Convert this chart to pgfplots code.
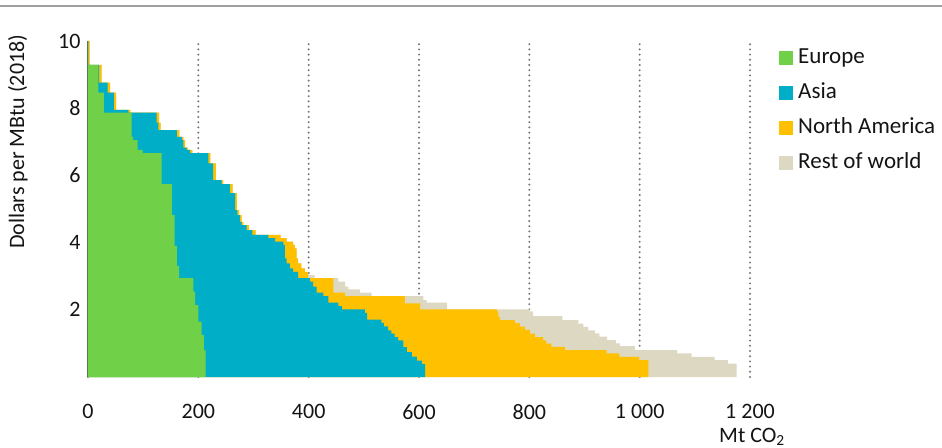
\documentclass[border=0pt]{standalone}
\usepackage{fontspec}
\setmainfont{Carlito}
\usepackage{pgfplots}
\pgfplotsset{compat=1.18}
\definecolor{eucol}{RGB}{112,208,72}
\definecolor{ascol}{RGB}{0,174,199}
\definecolor{nacol}{RGB}{255,192,0}
\definecolor{rwcol}{RGB}{221,216,193}
\definecolor{txt}{RGB}{20,20,20}
\pgfplotsset{sqleg/.style={legend image code/.code={\fill[#1] (0bp,-6.5bp) rectangle (13bp,6.5bp);}}}
\begin{document}
\fontsize{22bp}{26bp}\selectfont
\begin{tikzpicture}
\useasboundingbox (-88bp,-71bp) rectangle (854bp,377bp);
\draw[color=gray!75, line width=2.5bp] (-88bp,371bp) -- (854bp,371bp);
\begin{axis}[
 at={(0bp,0bp)}, anchor=south west,
 scale only axis, width=662bp, height=336bp,
 xmin=0, xmax=1200, ymin=0, ymax=10,
 axis x line*=bottom, axis y line*=left,
 x axis line style={draw=none},
 y axis line style={draw=black!75, line width=1.5bp},
 xtick={0,200,400,600,800,1000,1200},
 xticklabels={0,200,400,600,800,1 000,1 200},
 ytick={2,4,6,8,10},
 major tick length=0pt,
 tick label style={font=\fontsize{22bp}{26bp}\selectfont, text=txt},
 /pgf/number format/assume math mode=true,
 xticklabel style={yshift=-20bp},
 xmajorgrids,
 grid style={black!55, line width=2.2bp, line cap=round, dash pattern=on 0bp off 5.2bp},
 xlabel={Mt CO\textsubscript{2}},
 xlabel style={at={(axis description cs:1.003,-0.179)}, anchor=center, font=\fontsize{22bp}{26bp}\selectfont, text=txt},
 ylabel={Dollars per MBtu (2018)},
 ylabel style={at={(axis description cs:-0.106,0.70)}, anchor=center, font=\fontsize{22bp}{26bp}\selectfont, text=txt},
 legend style={at={(axis description cs:1.044,0.986)}, anchor=north west, draw=none, fill=none, inner sep=0pt, row sep=10.5bp, font=\fontsize{23bp}{27bp}\selectfont, text=txt, nodes={text height=15bp, text depth=4.5bp, inner ysep=2.5bp, inner xsep=5.5bp}},
 legend cell align=left,
]
% Rest of world (cumulative total)
\addplot[const plot mark right, fill=rwcol, draw=none, forget plot] table {
x y
0 0
1175.8 0
1160 0.40
1136 0.50
1094 0.60
1068 0.70
991.5 0.80
964 0.92
957 1.0
941 1.10
927 1.20
919 1.30
907 1.39
898 1.49
889 1.59
860 1.69
807 1.81
801 1.95
651 2.01
614 2.21
608 2.29
514 2.41
493 2.51
472 2.61
466 2.69
454 2.84
411 2.94
399 3.03
393 3.13
387 3.23
381 3.38
378 3.53
375 3.83
372 3.93
360 4.03
349 4.13
304 4.23
291.6 4.37
281.5 4.52
278.6 4.62
274 4.82
270 4.97
262 5.47
245 5.74
232 5.86
222 6.36
189 6.66
181 6.76
176 6.83
173 7.05
165.5 7.15
131.7 7.35
129 7.57
77 7.87
50.8 7.95
40 8.46
24.8 8.76
3 9.29
0 10
};
% North America (cumulative)
\addplot[const plot mark right, fill=nacol, draw=none, forget plot] table {
x y
0 0
1015.6 0
999 0.5
963 0.6
940 0.7
864.6 0.8
840 0.9
831 0.99
825 1.09
810 1.19
801 1.29
792 1.40
783 1.50
774 1.60
747 1.69
744 1.79
741 1.95
602 2.01
574.6 2.19
466 2.41
444.7 2.51
399 2.94
393 3.13
387 3.23
381 3.38
378 3.53
375 3.83
372 3.93
360 4.03
349 4.13
304 4.23
291.6 4.37
281.5 4.52
278.6 4.62
274 4.82
270 4.97
262 5.47
245 5.74
232 5.86
222 6.36
189 6.66
181 6.76
176 6.83
173 7.05
165.5 7.15
131.7 7.35
129 7.57
77 7.87
50.8 7.95
40 8.46
24.8 8.76
3 9.29
0 10
};
% Asia (cumulative)
\addplot[const plot mark right, fill=ascol, draw=none, forget plot] table {
x y
0 0
611 0
605 0.39
596 0.49
587 0.61
578 0.74
571.5 0.89
562 1.09
556 1.19
550 1.29
544 1.39
536.5 1.51
532 1.61
506 1.71
502 1.91
460 2.01
454 2.11
435.6 2.21
426.5 2.41
414.5 2.51
408 2.69
402 2.84
381 2.94
372 3.13
366 3.23
360 3.38
357 3.53
354 3.93
339 4.03
327 4.13
298 4.23
287.6 4.37
278.4 4.52
275.5 4.62
270.6 4.82
266.5 4.97
257 5.47
242 5.74
227 5.86
218 6.36
185 6.66
179 6.76
173 6.83
170 7.05
161 7.15
127.5 7.35
124.5 7.57
73 7.87
47 7.95
35.6 8.46
20 8.76
0.5 9.29
0 10
};
% Europe
\addplot[const plot mark right, fill=eucol, draw=none, forget plot] table {
x y
0 0
213 0
210 0.80
206 1.25
200 1.65
194 2.14
191 2.54
165 2.94
161 3.3
157 3.9
152 4.82
133.5 5.74
99 6.66
90 6.76
82 7.05
79 7.15
29 7.87
18.7 8.46
0 9.29
0 10
};
\addlegendimage{sqleg=eucol}
\addlegendentry{Europe}
\addlegendimage{sqleg=ascol}
\addlegendentry{Asia}
\addlegendimage{sqleg=nacol}
\addlegendentry{North America}
\addlegendimage{sqleg=rwcol}
\addlegendentry{Rest of world}
\end{axis}
\end{tikzpicture}
\end{document}
